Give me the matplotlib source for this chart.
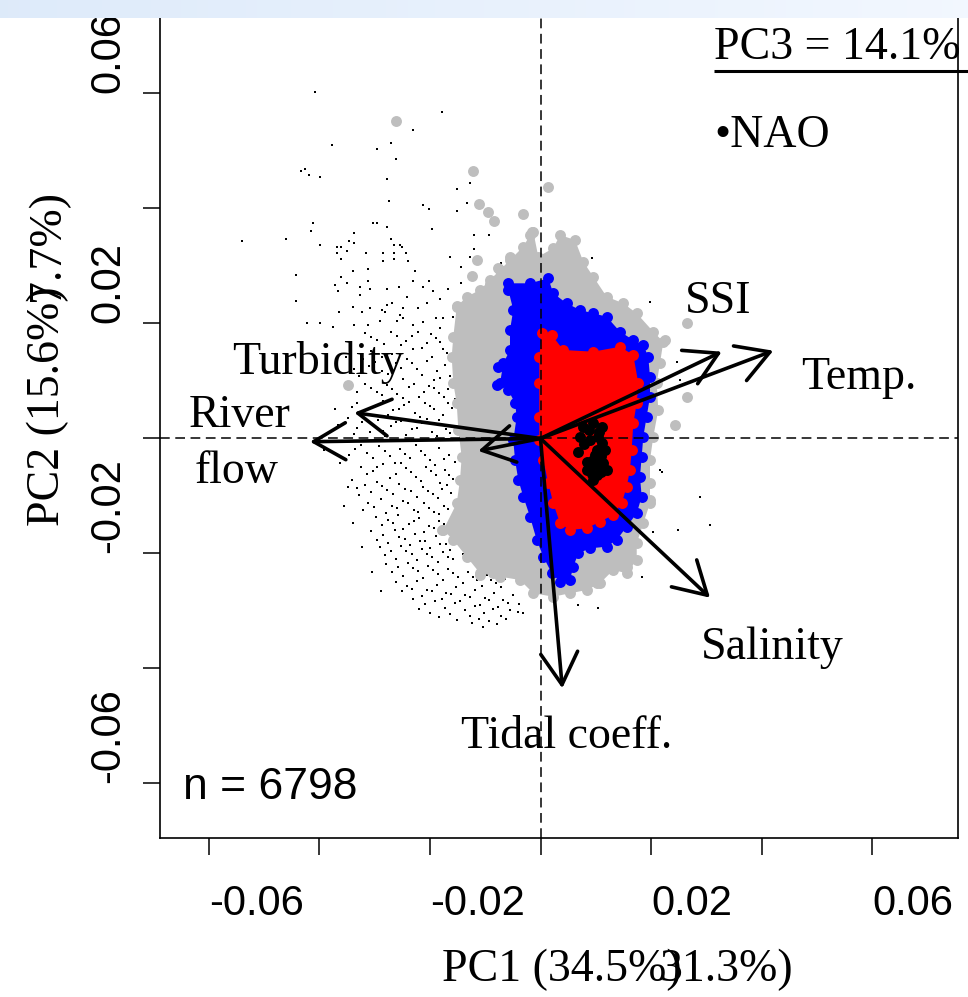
import matplotlib
matplotlib.use("Agg")
import matplotlib.pyplot as plt
import numpy as np

plt.rcParams['lines.scale_dashes'] = False

# ---------------- data (PC1, PC2 scores / loadings) ----------------
# variable loadings (arrow tips)
var_names = ["River flow", "Turbidity", "", "SSI", "Temp.", "Salinity", "Tidal coeff."]
load_x = [-0.04168, -0.03367, -0.01125, 0.03277, 0.04210, 0.03065, 0.00394]
load_y = [-0.00056, 0.00449, -0.00217, 0.01510, 0.01527, -0.02769, -0.04344]

# label positions for variables
lab_text = ["Turbidity", "River", "flow", "SSI", "Temp.", "Salinity", "Tidal coeff."]
lab_x = [-0.04024, -0.05434, -0.05488, 0.03210, 0.05759, 0.04186, 0.00479]
lab_y = [0.01330, 0.00391, -0.00583, 0.02374, 0.01052, -0.03643, -0.05191]

# all samples (small dots)
dots = np.array([
    (-0.04078, 0.06031), (-0.01787, 0.05683), (-0.02311, 0.05365), (-0.03776, 0.05104),
    (-0.02709, 0.05144), (-0.02962, 0.05035), (-0.02618, 0.04861), (-0.04336, 0.04657),
    (-0.04259, 0.04687), (-0.04186, 0.04583), (-0.03993, 0.04548), (-0.02781, 0.04513),
    (-0.01515, 0.04344), (-0.01275, 0.04443), (-0.02740, 0.04130), (-0.02130, 0.04061),
    (-0.02022, 0.03991), (-0.01515, 0.03956), (-0.01335, 0.04096), (-0.04114, 0.03748),
    (-0.04156, 0.03609), (-0.03029, 0.03748), (-0.02962, 0.03748), (-0.02781, 0.03683),
    (-0.01962, 0.03643), (-0.01203, 0.03544), (-0.00937, 0.03544), (-0.05403, 0.03435),
    (-0.04602, 0.03470), (-0.03378, 0.03574), (-0.03463, 0.03435), (-0.03378, 0.03405),
    (-0.03993, 0.03370), (-0.02709, 0.03470), (-0.02649, 0.03365), (-0.02541, 0.03365),
    (-0.02510, 0.03336), (-0.03685, 0.03330), (-0.03602, 0.03330), (-0.03685, 0.03231),
    (-0.03499, 0.03261), (-0.03156, 0.03231), (-0.02848, 0.03231), (-0.02649, 0.03231),
    (-0.02438, 0.03231), (-0.03608, 0.03122), (-0.02848, 0.03087), (-0.02649, 0.03122),
    (-0.02396, 0.03087), (-0.01642, 0.03162), (-0.01275, 0.03162), (-0.01203, 0.03301),
    (-0.00714, 0.03057), (-0.04421, 0.02843), (-0.03396, 0.02918), (-0.03125, 0.02948),
    (-0.02275, 0.02918), (-0.01443, 0.02988), (-0.03608, 0.02809), (-0.03125, 0.02744),
    (-0.02311, 0.02744), (-0.02022, 0.02744), (-0.01443, 0.02710), (-0.03716, 0.02670),
    (-0.03656, 0.02570), (-0.03499, 0.02710), (-0.03264, 0.02640), (-0.03083, 0.02605),
    (-0.02781, 0.02605), (-0.02553, 0.02640), (-0.02130, 0.02640), (-0.01939, 0.02570),
    (-0.01678, 0.02605), (-0.04427, 0.02396), (-0.03264, 0.02501), (-0.02691, 0.02362),
    (-0.02420, 0.02466), (-0.02058, 0.02362), (-0.01817, 0.02431), (-0.03396, 0.02292),
    (-0.03083, 0.02264), (-0.02872, 0.02235), (-0.02812, 0.02195), (-0.02781, 0.02322),
    (-0.02481, 0.02264), (-0.02210, 0.02264), (-0.01365, 0.02409), (-0.03638, 0.02195),
    (-0.03228, 0.02195), (-0.02541, 0.02148), (-0.04228, 0.02003), (-0.03987, 0.02014),
    (-0.03747, 0.01944), (-0.03367, 0.01974), (-0.03125, 0.01974), (-0.02902, 0.02043),
    (-0.02600, 0.02043), (-0.02481, 0.02090), (-0.02300, 0.01974), (-0.02119, 0.02031),
    (-0.01895, 0.02090), (-0.01758, 0.02090), (-0.01577, 0.02108), (-0.01817, 0.01916),
    # right side / lower sparse
    (0.02463, 0.01336), (0.02523, 0.01017), (0.02192, -0.00577), (0.02884, -0.01012),
    (0.03065, -0.01504), (0.02492, -0.01591), (0.02040, -0.01621), (0.00684, -0.02896),
    (0.01045, -0.02953), (-0.00311, -0.03040), (-0.01034, -0.03273), (0.00926, 0.03134),
    (0.02161, 0.01596), (0.01980, 0.02379), (0.01830, -0.02403), (0.02161, -0.00548),
    # dense band A
    (-0.0318, 0.0183), (-0.0296, 0.0171), (-0.0271, 0.0186), (-0.0252, 0.0162),
    (-0.0233, 0.0178), (-0.0214, 0.0158), (-0.0198, 0.0181), (-0.0182, 0.0167),
    (-0.0169, 0.0149), (-0.0287, 0.0142), (-0.0262, 0.0131), (-0.0241, 0.0139),
    (-0.0224, 0.0121), (-0.0205, 0.0134), (-0.0188, 0.0117), (-0.0172, 0.0128),
    (-0.0311, 0.0126), (-0.0329, 0.0109), (-0.0275, 0.0112), (-0.0249, 0.0104),
    (-0.0193, 0.0102), (-0.0163, 0.0109), (-0.0231, 0.0155), (-0.0307, 0.0153),
    (-0.0307, 0.0177), (-0.0283, 0.0164), (-0.0259, 0.0179), (-0.0243, 0.0169),
    (-0.0222, 0.0186), (-0.0206, 0.0166), (-0.0189, 0.0174), (-0.0176, 0.0156),
    (-0.0299, 0.0133), (-0.0269, 0.0147), (-0.0253, 0.0123), (-0.0232, 0.0132),
    (-0.0214, 0.0111), (-0.0196, 0.0142), (-0.0181, 0.0106), (-0.0321, 0.0139),
    (-0.0338, 0.0121), (-0.0286, 0.0118),
    # band B
    (-0.0342, 0.0087), (-0.0318, 0.0094), (-0.0296, 0.0081), (-0.0277, 0.0093),
    (-0.0259, 0.0078), (-0.0238, 0.0089), (-0.0219, 0.0072), (-0.0201, 0.0091),
    (-0.0184, 0.0079), (-0.0167, 0.0086), (-0.0155, 0.0068), (-0.0331, 0.0061),
    (-0.0305, 0.0054), (-0.0284, 0.0066), (-0.0266, 0.0049), (-0.0246, 0.0058),
    (-0.0227, 0.0044), (-0.0209, 0.0062), (-0.0192, 0.0051), (-0.0176, 0.0041),
    (-0.0160, 0.0053), (-0.0349, 0.0036), (-0.0322, 0.0029), (-0.0293, 0.0033),
    (-0.0271, 0.0021), (-0.0252, 0.0031), (-0.0233, 0.0016), (-0.0214, 0.0027),
    (-0.0196, 0.0012), (-0.0179, 0.0023), (-0.0163, 0.0009), (-0.0338, 0.0008),
    (-0.0308, 0.0011), (-0.0281, 0.0004),
    (-0.0331, 0.0081), (-0.0307, 0.0088), (-0.0287, 0.0076), (-0.0268, 0.0086),
    (-0.0248, 0.0071), (-0.0228, 0.0095), (-0.0210, 0.0081), (-0.0192, 0.0087),
    (-0.0175, 0.0073), (-0.0341, 0.0054), (-0.0316, 0.0043), (-0.0294, 0.0059),
    (-0.0276, 0.0041), (-0.0256, 0.0052), (-0.0237, 0.0064), (-0.0218, 0.0037),
    (-0.0200, 0.0056), (-0.0184, 0.0033), (-0.0168, 0.0061), (-0.0332, 0.0018),
    (-0.0301, 0.0022), (-0.0284, 0.0013), (-0.0262, 0.0028), (-0.0243, 0.0006),
    (-0.0223, 0.0019), (-0.0205, 0.0034), (-0.0187, 0.0004), (-0.0171, 0.0016),
    # band C
    (-0.0336, -0.0018), (-0.0314, -0.0026), (-0.0292, -0.0013), (-0.0273, -0.0031),
    (-0.0254, -0.0019), (-0.0236, -0.0034), (-0.0217, -0.0022), (-0.0199, -0.0038),
    (-0.0183, -0.0016), (-0.0166, -0.0029), (-0.0154, -0.0041), (-0.0325, -0.0049),
    (-0.0303, -0.0057), (-0.0285, -0.0044), (-0.0262, -0.0061), (-0.0243, -0.0052),
    (-0.0226, -0.0067), (-0.0207, -0.0049), (-0.0189, -0.0063), (-0.0173, -0.0054),
    (-0.0158, -0.0071), (-0.0341, -0.0073), (-0.0318, -0.0081), (-0.0296, -0.0076),
    (-0.0277, -0.0089), (-0.0256, -0.0079), (-0.0234, -0.0092), (-0.0213, -0.0084),
    (-0.0195, -0.0097), (-0.0178, -0.0088), (-0.0161, -0.0094), (-0.0329, -0.0099),
    (-0.0346, -0.0028), (-0.0325, -0.0011), (-0.0303, -0.0034), (-0.0282, -0.0021),
    (-0.0264, -0.0042), (-0.0245, -0.0027), (-0.0226, -0.0011), (-0.0208, -0.0029),
    (-0.0191, -0.0046), (-0.0174, -0.0036), (-0.0314, -0.0062), (-0.0295, -0.0049),
    (-0.0273, -0.0068), (-0.0252, -0.0043), (-0.0234, -0.0059), (-0.0216, -0.0074),
    (-0.0198, -0.0057), (-0.0181, -0.0077), (-0.0165, -0.0064), (-0.0331, -0.0086),
    (-0.0307, -0.0093), (-0.0286, -0.0083), (-0.0266, -0.0097), (-0.0245, -0.0087),
    (-0.0224, -0.0101), (-0.0204, -0.0091), (-0.0186, -0.0104), (-0.0169, -0.0081),
    # band D
    (-0.0312, -0.0112), (-0.0289, -0.0106), (-0.0268, -0.0118), (-0.0249, -0.0109),
    (-0.0229, -0.0124), (-0.0211, -0.0113), (-0.0192, -0.0127), (-0.0175, -0.0117),
    (-0.0158, -0.0131), (-0.0298, -0.0136), (-0.0276, -0.0142), (-0.0257, -0.0133),
    (-0.0238, -0.0149), (-0.0219, -0.0139), (-0.0201, -0.0152), (-0.0183, -0.0144),
    (-0.0166, -0.0157), (-0.0148, -0.0148), (-0.0306, -0.0161), (-0.0284, -0.0168),
    (-0.0264, -0.0159), (-0.0245, -0.0174), (-0.0227, -0.0166), (-0.0208, -0.0178),
    (-0.0189, -0.0169), (-0.0171, -0.0183), (-0.0153, -0.0176), (-0.0291, -0.0189),
    (-0.0271, -0.0196), (-0.0252, -0.0187), (-0.0233, -0.0201), (-0.0214, -0.0193),
    (-0.0196, -0.0206), (-0.0177, -0.0198), (-0.0159, -0.0209), (-0.0141, -0.0201),
    (-0.0321, -0.0124), (-0.0301, -0.0119), (-0.0279, -0.0129), (-0.0259, -0.0121),
    (-0.0239, -0.0112), (-0.0221, -0.0128), (-0.0202, -0.0121), (-0.0184, -0.0131),
    (-0.0167, -0.0122), (-0.0287, -0.0151), (-0.0267, -0.0147), (-0.0248, -0.0158),
    (-0.0229, -0.0144), (-0.0210, -0.0163), (-0.0192, -0.0156), (-0.0174, -0.0148),
    (-0.0157, -0.0165), (-0.0296, -0.0176), (-0.0275, -0.0181), (-0.0255, -0.0171),
    (-0.0236, -0.0186), (-0.0218, -0.0179), (-0.0199, -0.0191), (-0.0181, -0.0184),
    (-0.0163, -0.0194), (-0.0281, -0.0203), (-0.0262, -0.0209), (-0.0243, -0.0196),
    (-0.0224, -0.0211), (-0.0205, -0.0201), (-0.0186, -0.0214), (-0.0168, -0.0206),
    # band E
    (-0.0279, -0.0218), (-0.0258, -0.0224), (-0.0239, -0.0216), (-0.0221, -0.0231),
    (-0.0203, -0.0222), (-0.0185, -0.0236), (-0.0167, -0.0227), (-0.0149, -0.0241),
    (-0.0131, -0.0233), (-0.0114, -0.0246), (-0.0097, -0.0238), (-0.0081, -0.0251),
    (-0.0064, -0.0244), (-0.0262, -0.0249), (-0.0242, -0.0257), (-0.0224, -0.0248),
    (-0.0206, -0.0263), (-0.0188, -0.0254), (-0.0171, -0.0268), (-0.0153, -0.0259),
    (-0.0136, -0.0273), (-0.0118, -0.0264), (-0.0101, -0.0277), (-0.0084, -0.0268),
    (-0.0068, -0.0281), (-0.0049, -0.0272), (-0.0231, -0.0279), (-0.0209, -0.0288),
    (-0.0191, -0.0282), (-0.0172, -0.0294), (-0.0154, -0.0286), (-0.0137, -0.0299),
    (-0.0119, -0.0291), (-0.0102, -0.0303), (-0.0086, -0.0296), (-0.0071, -0.0308),
    (-0.0055, -0.0299), (-0.0038, -0.0287), (-0.0184, -0.0311), (-0.0151, -0.0316),
    (-0.0124, -0.0321), (-0.0093, -0.0318),
    (-0.0269, -0.0233), (-0.0249, -0.0239), (-0.0230, -0.0226), (-0.0212, -0.0243),
    (-0.0194, -0.0229), (-0.0176, -0.0246), (-0.0158, -0.0234), (-0.0140, -0.0251),
    (-0.0122, -0.0241), (-0.0105, -0.0256), (-0.0089, -0.0246), (-0.0072, -0.0259),
    (-0.0251, -0.0266), (-0.0233, -0.0261), (-0.0215, -0.0274), (-0.0197, -0.0266),
    (-0.0179, -0.0279), (-0.0162, -0.0271), (-0.0145, -0.0283), (-0.0127, -0.0276),
    (-0.0110, -0.0289), (-0.0093, -0.0281), (-0.0076, -0.0293), (-0.0059, -0.0286),
    (-0.0041, -0.0301), (-0.0219, -0.0296), (-0.0199, -0.0303), (-0.0163, -0.0306),
    (-0.0128, -0.0309), (-0.0111, -0.0314), (-0.0078, -0.0323), (-0.0062, -0.0314),
    # sparse left
    (-0.0362, -0.0043), (-0.0371, 0.0051), (-0.0356, -0.0118), (-0.0339, -0.0147),
    (-0.0323, -0.0189), (-0.0304, -0.0232), (-0.0289, -0.0265), (-0.0352, 0.0142),
    (-0.0367, 0.0023), (-0.0348, -0.0084), (-0.0392, -0.0020),
])

# grey cloud outline and outlying grey samples
grey_outline = np.array([
    (-0.00130, 0.03596), (-0.00040, 0.03162), (0.00231, 0.03308), (0.00353, 0.03539),
    (0.00624, 0.03452), (0.00774, 0.03075), (0.00955, 0.02814), (0.01197, 0.02466),
    (0.01497, 0.02351), (0.01740, 0.02177), (0.02040, 0.01857), (0.02221, 0.01683),
    (0.02161, 0.01308), (0.02101, 0.00960), (0.02130, 0.00496), (0.02040, 0.00031),
    (0.01980, -0.00374), (0.01980, -0.00779), (0.01980, -0.01127), (0.01859, -0.01475),
    (0.01740, -0.01823), (0.01740, -0.02113), (0.01559, -0.02344), (0.01316, -0.02287),
    (0.01076, -0.02518), (0.00835, -0.02635), (0.00533, -0.02692), (0.00231, -0.02751),
    (-0.00130, -0.02692), (-0.00371, -0.02461), (-0.00732, -0.02403), (-0.01094, -0.02344),
    (-0.01335, -0.02056), (-0.01577, -0.01765), (-0.01758, -0.01591), (-0.01515, -0.01127),
    (-0.01456, -0.00722), (-0.01425, -0.00317), (-0.01486, 0.00148), (-0.01515, 0.00612),
    (-0.01577, 0.00960), (-0.01606, 0.01423), (-0.01577, 0.01770), (-0.01515, 0.02292),
    (-0.01335, 0.02466), (-0.01094, 0.02583), (-0.00913, 0.02757), (-0.00732, 0.02930),
    (-0.00552, 0.03104), (-0.00311, 0.03336), (-0.00190, 0.03539),
])
grey_out_x = [-0.02618, -0.01215, -0.01107, -0.00944, -0.00835, -0.00311, -0.00148,
              -0.00552, -0.01143, -0.01244, -0.00763, -0.00913, -0.01515, -0.01335,
              0.00141, 0.02644, 0.02644, 0.02432, 0.02251, 0.01980, 0.01559, 0.01197,
              0.01016, 0.00714, -0.03476, -0.01787, -0.01577, -0.01094, -0.00854]
grey_out_y = [0.05522, 0.04657, 0.04073, 0.03934, 0.03788, 0.03899, 0.03586,
              0.03162, 0.03104, 0.02826, 0.02960, 0.02687, 0.02304, 0.02304,
              0.04379, 0.02003, 0.00727, 0.00235, 0.01713, -0.01070, -0.02230, -0.02230,
              -0.02518, -0.02518, 0.00930, -0.01591, -0.01534, -0.02374, -0.02344]

# blue cloud outline and outliers
blue_outline = np.array([
    (-0.00582, 0.02699), (-0.00190, 0.02699), (0.00141, 0.02786), (0.00231, 0.02525),
    (0.00474, 0.02351), (0.00714, 0.02235), (0.00955, 0.02177), (0.01197, 0.02118),
    (0.01438, 0.01857), (0.01678, 0.01713), (0.01859, 0.01626), (0.01949, 0.01423),
    (0.01980, 0.01075), (0.01980, 0.00727), (0.01920, 0.00379), (0.01859, 0.00031),
    (0.01830, -0.00317), (0.01799, -0.00664), (0.01830, -0.01012), (0.01740, -0.01301),
    (0.01559, -0.01534), (0.01378, -0.01765), (0.01197, -0.01882), (0.00895, -0.01910),
    (0.00684, -0.01997), (0.00593, -0.02230), (0.00533, -0.02461), (0.00353, -0.02490),
    (0.00203, -0.02344), (0.00051, -0.02056), (-0.00069, -0.01765), (-0.00190, -0.01360),
    (-0.00311, -0.01012), (-0.00401, -0.00722), (-0.00461, -0.00374), (-0.00492, -0.00026),
    (-0.00430, 0.00379), (-0.00461, 0.00612), (-0.00582, 0.00843), (-0.00732, 0.00960),
    (-0.00673, 0.01308), (-0.00552, 0.01539), (-0.00552, 0.01887), (-0.00492, 0.02235),
    (-0.00582, 0.02583),
])
blue_out_x = [-0.00792, -0.00763]
blue_out_y = [0.00930, 0.01249]

# red cloud outline
red_outline = np.array([
    (0.00022, 0.01830), (0.00203, 0.01800), (0.00412, 0.01539), (0.00955, 0.01510),
    (0.01438, 0.01596), (0.01678, 0.01452), (0.01769, 0.00960), (0.01740, 0.00612),
    (0.01678, 0.00264), (0.01649, -0.00200), (0.01618, -0.00548), (0.01559, -0.00838),
    (0.01468, -0.01127), (0.01316, -0.01330), (0.01076, -0.01447), (0.00835, -0.01562),
    (0.00533, -0.01591), (0.00353, -0.01475), (0.00231, -0.01127), (0.00141, -0.00779),
    (0.00051, -0.00374), (-0.00022, -0.00026), (-0.00022, 0.00379), (-0.00022, 0.00960),
    (-0.00022, 0.01423),
])

# black highlighted samples
blk_x = [0.00774, 0.00955, 0.01107, 0.00714, 0.00895, 0.01107, 0.00684, 0.01016,
         0.01166, 0.00955, 0.01136, 0.00835, 0.01016, 0.01197, 0.00955, 0.00835, 0.01040,
         0.00880, 0.01060, 0.00780, 0.00990, 0.01090, 0.00900, 0.01100, 0.00930, 0.01050]
blk_y = [0.00205, 0.00264, 0.00205, 0.00031, -0.00026, -0.00083, -0.00230, -0.00200,
         -0.00200, -0.00374, -0.00431, -0.00548, -0.00635, -0.00548, -0.00722, -0.00409, 0.00026,
         0.00150, 0.00120, -0.00100, -0.00290, -0.00310, -0.00520, -0.00590, -0.00610, -0.00470]

xticks = [-0.06, -0.04, -0.02, 0.0, 0.02, 0.04, 0.06]
xtick_labels = ["-0.06", "", "-0.02", "", "0.02", "", "0.06"]
yticks = [-0.06, -0.04, -0.02, 0.0, 0.02, 0.04, 0.06]
ytick_labels = ["-0.06", "", "-0.02", "", "0.02", "", "0.06"]

# ---------------- figure ----------------
W, H = 968, 997
fig = plt.figure(figsize=(W / 100, H / 100), dpi=100)

ax = fig.add_axes([160 / W, 1 - 838 / H, (958 - 160) / W, (838 + 21.5) / H])
ax.set_xlim(-0.06881, 0.07550)
ax.set_ylim(-0.06948, 0.08)

# light band at top of the screenshot (drawn above the plot)
band = fig.add_axes([0, 1 - 18 / H, 1, 18 / H])
band.set_zorder(20)
grad = np.linspace(0, 1, 256)[None, :]
c0 = np.array([0.87, 0.92, 0.98]); c1 = np.array([0.95, 0.97, 1.0])
band.imshow(c0[None, None, :] * (1 - grad[..., None]) + c1[None, None, :] * grad[..., None],
            aspect='auto', extent=[0, 1, 0, 1])
band.axis('off')

serif = ['Liberation Serif', 'DejaVu Serif']
sans = ['Liberation Sans', 'DejaVu Sans']

# samples
ax.scatter(dots[:, 0], dots[:, 1], s=3.2, marker='s', color='black', linewidths=0, zorder=1)
ax.fill(grey_outline[:, 0], grey_outline[:, 1], color='#BEBEBE', lw=0, zorder=2)
ax.scatter(grey_outline[:, 0], grey_outline[:, 1], s=62, color='#BEBEBE', linewidths=0, zorder=2)
ax.scatter(grey_out_x, grey_out_y, s=62, color='#BEBEBE', linewidths=0, zorder=2)
ax.fill(blue_outline[:, 0], blue_outline[:, 1], color='#0000FF', lw=0, zorder=3)
ax.scatter(blue_outline[:, 0], blue_outline[:, 1], s=62, color='#0000FF', linewidths=0, zorder=3)
ax.scatter(blue_out_x, blue_out_y, s=62, color='#0000FF', linewidths=0, zorder=3)
ax.fill(red_outline[:, 0], red_outline[:, 1], color='#FF0000', lw=0, zorder=4)
ax.scatter(red_outline[:, 0], red_outline[:, 1], s=62, color='#FF0000', linewidths=0, zorder=4)
ax.scatter(blk_x, blk_y, s=62, color='black', linewidths=0, zorder=5)

# reference lines
ax.axhline(0, color='black', lw=1.1, ls=(0, (7, 4)), zorder=6)
ax.axvline(0, color='black', lw=1.1, ls=(0, (7, 4)), zorder=6)

# loading arrows
for lx, ly in zip(load_x, load_y):
    ax.annotate('', xy=(lx, ly), xytext=(0, 0),
                arrowprops=dict(arrowstyle='->,head_length=2.3,head_width=1.33',
                                mutation_scale=10, lw=2.6, color='black',
                                shrinkA=0, shrinkB=0), zorder=7)

for t, x, y in zip(lab_text, lab_x, lab_y):
    ax.text(x, y, t, ha='center', va='center', fontsize=33, family=serif, zorder=8)

# PC3 note
ax.text(0.03137, 0.06791, "PC3 = 14.1%", ha='left', va='center', fontsize=33,
        family=serif, clip_on=False, zorder=8)
ax.plot([0.03137, 0.0775], [0.06397, 0.06397], color='black', lw=2.2,
        clip_on=False, zorder=8, solid_capstyle='butt')
ax.text(0.03137, 0.05261, "\u2022NAO", ha='left', va='center', fontsize=33,
        family=serif, zorder=8)
ax.text(-0.06465, -0.06078, "n = 6798", ha='left', va='center', fontsize=32,
        family=sans, zorder=8)

# axes styling
for side in ['left', 'bottom', 'right']:
    ax.spines[side].set_linewidth(1.2)
ax.spines['top'].set_visible(False)
ax.set_xticks(xticks)
ax.set_xticklabels(xtick_labels, family=sans, fontsize=30)
ax.set_yticks(yticks)
ax.set_yticklabels(ytick_labels, family=sans, fontsize=30, rotation=90)
ax.tick_params(axis='both', direction='out', length=12, width=1.1)
ax.tick_params(axis='x', pad=21)
ax.tick_params(axis='y', pad=11)
for lbl in ax.get_xticklabels():
    lbl.set_ha('left')
for lbl in ax.get_yticklabels():
    lbl.set_va('bottom')

# axis titles (overlapping as in the original)
fig.text(682 / W, 1 - 970 / H, "PC1 (34.5%)", ha='right', va='center', fontsize=33, family=serif)
fig.text(660 / W, 1 - 970 / H, "31.3%)", ha='left', va='center', fontsize=33, family=serif)
fig.text(48 / W, 1 - 286 / H, "PC2 (15.6%)", ha='center', va='top', rotation=90,
         fontsize=33, family=serif)
fig.text(48 / W, 1 - 301 / H, "7.7%)", ha='center', va='bottom', rotation=90,
         fontsize=33, family=serif)

fig.savefig("out.png", dpi=100)
